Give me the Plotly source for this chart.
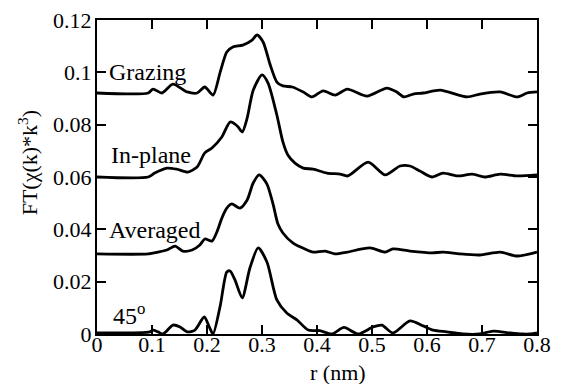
import plotly.graph_objects as go

# r (nm) and FT magnitudes
grazing_r = [0, 0.093, 0.102, 0.118, 0.138, 0.164, 0.182, 0.196, 0.211, 0.224, 0.236, 0.247, 0.265, 0.282,
             0.291, 0.302, 0.315, 0.327, 0.338, 0.355, 0.375, 0.391, 0.411, 0.433, 0.455, 0.491, 0.527,
             0.545, 0.558, 0.575, 0.593, 0.624, 0.673, 0.696, 0.733, 0.764, 0.782, 0.8]
grazing_ft = [0.0921, 0.0921, 0.0936, 0.0921, 0.0955, 0.0925, 0.0921, 0.0944, 0.0913, 0.1001, 0.1078,
              0.1097, 0.1104, 0.1123, 0.1143, 0.1116, 0.1028, 0.0963, 0.0948, 0.0944, 0.0925, 0.0906,
              0.0929, 0.0913, 0.0936, 0.0909, 0.0940, 0.0925, 0.0906, 0.0917, 0.0921, 0.0932, 0.0906,
              0.0917, 0.0925, 0.0906, 0.0921, 0.0925]

inplane_r = [0, 0.093, 0.105, 0.127, 0.145, 0.165, 0.182, 0.196, 0.209, 0.227, 0.242, 0.255, 0.264, 0.273,
             0.284, 0.300, 0.311, 0.327, 0.338, 0.347, 0.360, 0.375, 0.393, 0.418, 0.442, 0.456, 0.493,
             0.524, 0.551, 0.569, 0.587, 0.609, 0.629, 0.656, 0.682, 0.705, 0.733, 0.764, 0.8]
inplane_ft = [0.0600, 0.0600, 0.0615, 0.0634, 0.0630, 0.0619, 0.0638, 0.0692, 0.0711, 0.0753, 0.0810,
              0.0795, 0.0772, 0.0825, 0.0932, 0.0990, 0.0959, 0.0837, 0.0734, 0.0684, 0.0653, 0.0634,
              0.0630, 0.0615, 0.0611, 0.0604, 0.0657, 0.0608, 0.0642, 0.0642, 0.0623, 0.0600, 0.0615,
              0.0604, 0.0611, 0.0600, 0.0611, 0.0604, 0.0608]

averaged_r = [0, 0.093, 0.111, 0.127, 0.142, 0.156, 0.173, 0.187, 0.196, 0.209, 0.218, 0.227, 0.236, 0.245,
              0.260, 0.273, 0.284, 0.295, 0.309, 0.320, 0.329, 0.338, 0.356, 0.382, 0.393, 0.415, 0.433,
              0.455, 0.496, 0.524, 0.538, 0.569, 0.609, 0.629, 0.660, 0.696, 0.733, 0.764, 0.8]
averaged_ft = [0.0306, 0.0306, 0.0313, 0.0321, 0.0336, 0.0317, 0.0321, 0.0340, 0.0363, 0.0355, 0.0390,
               0.0443, 0.0481, 0.0497, 0.0481, 0.0512, 0.0577, 0.0608, 0.0573, 0.0497, 0.0420, 0.0386,
               0.0348, 0.0321, 0.0313, 0.0317, 0.0306, 0.0313, 0.0329, 0.0313, 0.0325, 0.0317, 0.0310,
               0.0313, 0.0306, 0.0302, 0.0313, 0.0298, 0.0313]

deg45_r = [0, 0.096, 0.102, 0.111, 0.120, 0.138, 0.151, 0.164, 0.178, 0.195, 0.205, 0.211, 0.224, 0.236,
           0.242, 0.251, 0.264, 0.278, 0.293, 0.309, 0.327, 0.345, 0.364, 0.384, 0.405, 0.427, 0.449,
           0.475, 0.502, 0.518, 0.538, 0.569, 0.593, 0.611, 0.636, 0.665, 0.696, 0.720, 0.751, 0.773,
           0.787, 0.8]
deg45_ft = [0.0004, 0.0008, 0.0015, 0.0008, 0.0, 0.0034, 0.0027, 0.0008, 0.0015, 0.0065, 0.0023, 0.0,
            0.0107, 0.0237, 0.0241, 0.0206, 0.0138, 0.0252, 0.0329, 0.0275, 0.0130, 0.0080, 0.0053,
            0.0015, 0.0013, 0.0, 0.0025, 0.0, 0.0027, 0.0034, 0.0004, 0.0050, 0.0031, 0.0015, 0.0008,
            0.0, 0.0, 0.0011, 0.0004, 0.0, 0.0, 0.0004]

series = [
    ("Grazing", grazing_r, grazing_ft),
    ("In-plane", inplane_r, inplane_ft),
    ("Averaged", averaged_r, averaged_ft),
    ("45°", deg45_r, deg45_ft),
]

x_ticks = [0, 0.1, 0.2, 0.3, 0.4, 0.5, 0.6, 0.7, 0.8]
y_ticks = [0, 0.02, 0.04, 0.06, 0.08, 0.1, 0.12]

FONT = "Liberation Serif"
fontspec = dict(family=FONT, size=22, color="black")
labelfont = dict(family=FONT, size=24, color="black")

fig = go.Figure()
for name, xs, ys in series:
    fig.add_trace(go.Scatter(x=xs, y=ys, mode="lines", name=name,
                             line=dict(color="black", width=2.8, shape="spline", smoothing=0.7),
                             showlegend=False, hoverinfo="skip"))

labels = [("Grazing", 0.018, 0.1003), ("In-plane", 0.022, 0.0684),
          ("Averaged", 0.018, 0.0397), ("45<sup>o</sup>", 0.025, 0.0075)]
for txt, lx, ly in labels:
    fig.add_annotation(text=txt, x=lx, y=ly, xref="x", yref="y", xanchor="left", yanchor="middle",
                       showarrow=False, font=dict(labelfont))

fig.add_annotation(text="r (nm)", x=0.548, y=-0.122, xref="paper", yref="paper",
                   xanchor="center", yanchor="middle", showarrow=False, font=dict(fontspec))
fig.add_annotation(text="FT(χ(k)*k<sup>3</sup>)", x=-0.158, y=0.545, xref="paper", yref="paper",
                   xanchor="center", yanchor="middle", textangle=-90, showarrow=False,
                   font=dict(fontspec))

axis_common = dict(showline=True, linecolor="black", linewidth=2, mirror="ticks",
                   ticks="inside", ticklen=9, tickwidth=1.5, tickcolor="black",
                   showgrid=False, zeroline=False, tickfont=dict(fontspec))

fig.update_xaxes(range=[0, 0.8], tickvals=x_ticks, ticktext=[f"{v:g}" for v in x_ticks],
                 ticklabelstandoff=-10, **axis_common)
fig.update_yaxes(range=[0, 0.12], tickvals=y_ticks, ticktext=[f"{v:g}" for v in y_ticks],
                 ticklabelstandoff=-1, **axis_common)

fig.update_layout(width=564, height=384, margin=dict(l=97, r=27, t=20, b=50, autoexpand=False),
                  paper_bgcolor="white", plot_bgcolor="white", font=dict(fontspec))

fig.write_html("out.html")
